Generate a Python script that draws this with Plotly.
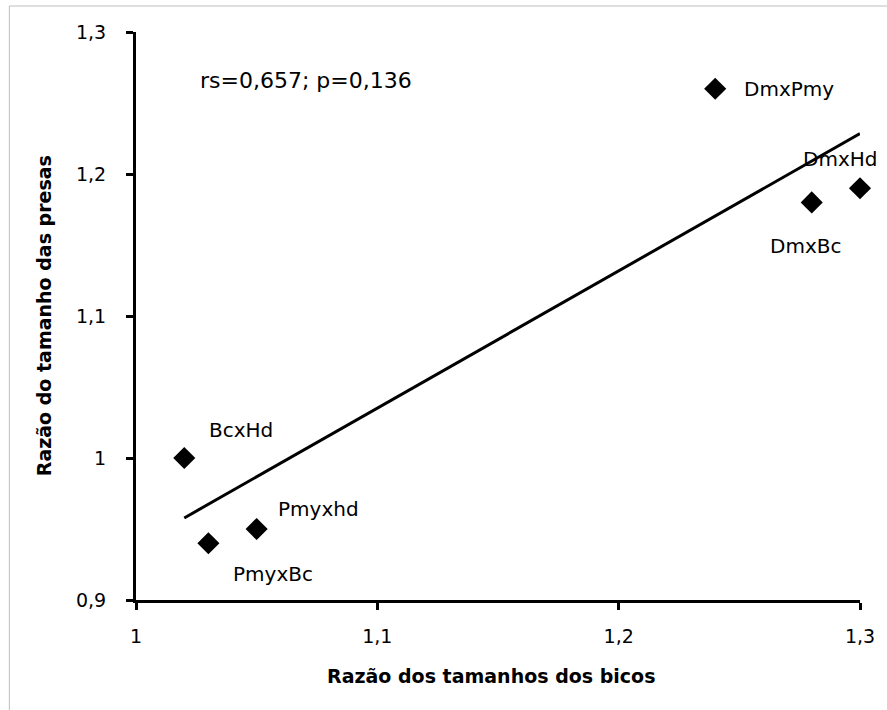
import numpy as np
import plotly.graph_objects as go

names = ["BcxHd", "PmyxBc", "Pmyxhd", "DmxPmy", "DmxBc", "DmxHd"]
bicos = [1.02, 1.03, 1.05, 1.24, 1.28, 1.30]
presas = [1.00, 0.94, 0.95, 1.26, 1.18, 1.19]
label_shift = {"BcxHd": (23, 28), "PmyxBc": (23, -31), "Pmyxhd": (19, 20),
               "DmxPmy": (27, 0), "DmxBc": (-44, -44), "DmxHd": (-59, 29)}
x_ticks = [1.0, 1.1, 1.2, 1.3]
y_ticks = [0.9, 1.0, 1.1, 1.2, 1.3]

FONT = "DejaVu Sans"
L, R, T, B = 136, 25, 32, 110
PW, PH = 887 - L - R, 710 - T - B

slope, intercept = np.polyfit(bicos, presas, 1)
tx = [min(bicos), max(bicos)]
ty = [slope * v + intercept for v in tx]

fig = go.Figure()
fig.add_trace(go.Scatter(x=tx, y=ty, mode="lines", line=dict(color="black", width=3),
                         showlegend=False, hoverinfo="skip"))
fig.add_trace(go.Scatter(x=bicos, y=presas, mode="markers", text=names,
                         marker=dict(symbol="diamond", size=17, color="black"),
                         showlegend=False, cliponaxis=False))

for n, xv, yv in zip(names, bicos, presas):
    dx, dy = label_shift[n]
    fig.add_annotation(x=xv, y=yv, xref="x", yref="y", text=n, showarrow=False,
                       xanchor="left", yanchor="middle", xshift=dx, yshift=dy,
                       font=dict(family=FONT, size=20, color="black"))

fig.add_annotation(x=(198 - L) / PW, y=(600 - 80) / PH, xref="paper", yref="paper",
                   text="rs=0,657; p=0,136", showarrow=False, xanchor="left", yanchor="middle",
                   font=dict(family=FONT, size=22, color="black"))

# axis titles
fig.add_annotation(x=(492 - L) / PW, y=-(676 - 600) / PH, xref="paper", yref="paper",
                   text="<b>Razão dos tamanhos dos bicos</b>", showarrow=False,
                   xanchor="center", yanchor="middle",
                   font=dict(family=FONT, size=19, color="black"))
fig.add_annotation(x=(44 - L) / PW, y=(600 - 316) / PH, xref="paper", yref="paper",
                   text="<b>Razão do tamanho das presas</b>", showarrow=False, textangle=-90,
                   xanchor="center", yanchor="middle",
                   font=dict(family=FONT, size=19, color="black"))

# outer chart border (light gray)
fig.add_shape(type="rect", xref="paper", yref="paper",
              x0=(9 - L) / PW, y0=-0.4, x1=1.2, y1=(600 - 6) / PH,
              line=dict(color="#bfbfbf", width=1), layer="below")

fig.update_layout(
    width=887, height=710,
    margin=dict(l=L, r=R, t=T, b=B),
    paper_bgcolor="white", plot_bgcolor="white",
    separators=", ",
    font=dict(family=FONT, size=19, color="black"),
    xaxis=dict(range=[1.0, 1.3], tickvals=x_ticks, showgrid=False, zeroline=False,
               showline=True, linecolor="black", linewidth=3,
               ticks="outside", ticklen=7, tickwidth=3, tickcolor="black",
               ticklabelstandoff=10,
               tickfont=dict(family=FONT, size=19)),
    yaxis=dict(range=[0.9, 1.3], tickvals=y_ticks, showgrid=False, zeroline=False,
               showline=True, linecolor="black", linewidth=3,
               ticks="outside", ticklen=7, tickwidth=3, tickcolor="black",
               ticklabelstandoff=16,
               tickfont=dict(family=FONT, size=19)),
)

fig.write_html("out.html")
